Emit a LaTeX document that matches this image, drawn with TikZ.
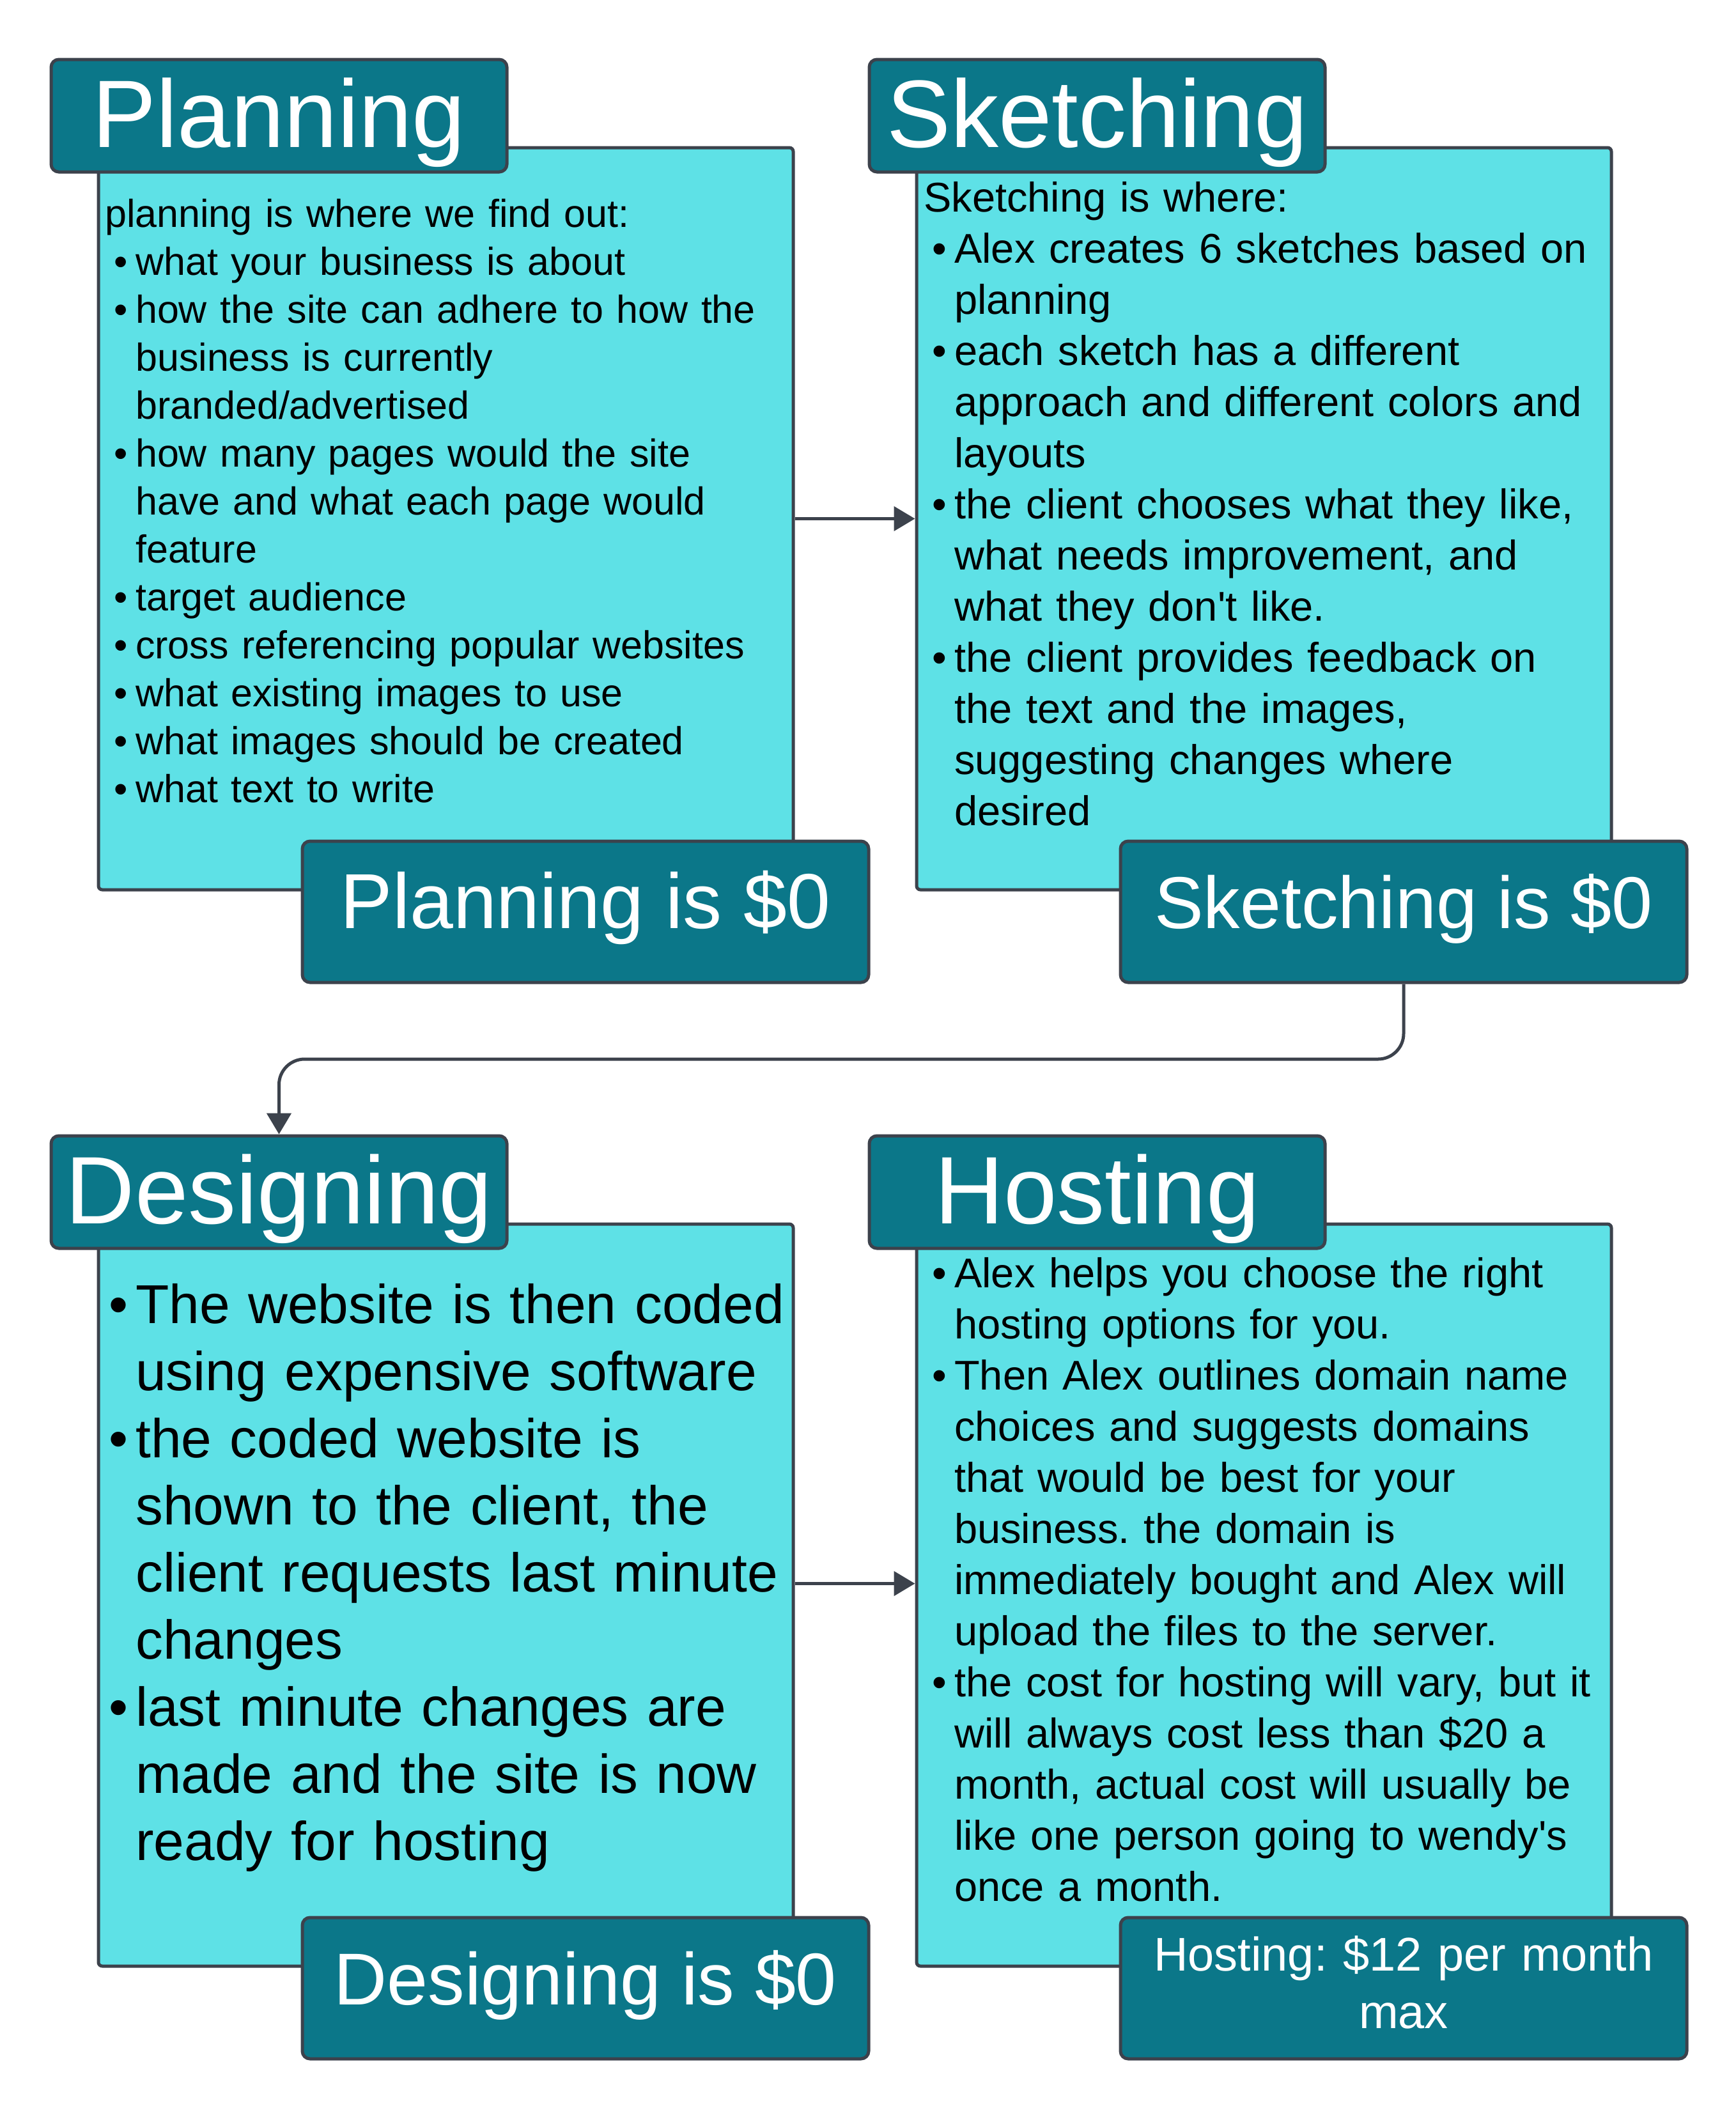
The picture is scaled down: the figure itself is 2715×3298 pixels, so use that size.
\documentclass[tikz,border=0pt]{standalone}
\usepackage{fontspec}
\setmainfont{Liberation Sans}[Ligatures=TeXOff]
\usetikzlibrary{arrows.meta}
\definecolor{teal1}{HTML}{0B7789}
\definecolor{cyan1}{HTML}{5EE1E6}
\definecolor{edge1}{HTML}{3C424C}
\frenchspacing
\newcommand{\bitem}{\par\noindent\hangindent=48pt\hangafter=1\hspace*{48pt}\llap{\textbullet\hspace*{12pt}}\ignorespaces}
\begin{document}
\begin{tikzpicture}[x=1pt,y=-1pt,
  bodybox/.style={draw=edge1, line width=5pt, fill=cyan1, rounded corners=6pt, inner sep=0pt, minimum width=1087pt, minimum height=1161pt},
  titlebox/.style={draw=edge1, line width=5pt, fill=teal1, rounded corners=12pt, inner sep=0pt, minimum width=713pt, minimum height=176pt},
  pricebox/.style={draw=edge1, line width=5pt, fill=teal1, rounded corners=12pt, inner sep=0pt, minimum width=886pt, minimum height=221pt},
  titletext/.style={anchor=base, text=white, inner sep=0pt, font=\fontsize{150}{180}\selectfont},
  pricetext/.style={anchor=base, text=white, inner sep=0pt, font=\fontsize{115}{138}\selectfont},
  bodytext/.style={anchor=north west, inner sep=0pt, text width=1400pt, text=black},
  smalltext/.style={bodytext, font=\fontsize{61}{75}\selectfont\frenchspacing},
  midtext/.style={bodytext, font=\fontsize{65}{80}\selectfont\frenchspacing},
  bigtext/.style={bodytext, font=\fontsize{85.7}{105}\selectfont\frenchspacing},
  conn/.style={draw=edge1, line width=5pt, -{Triangle[length=33pt,width=38pt]}}
]
\fill[white] (0,0) rectangle (2715,3298);
\useasboundingbox (0,0) rectangle (2715,3298);

% body boxes
\node[bodybox] (pbody) at (697.5,811.5) {};
\node[bodybox] (sbody) at (1977.5,811.5) {};
\node[bodybox] (dbody) at (697.5,2495.5) {};
\node[bodybox] (hbody) at (1977.5,2495.5) {};

% title boxes
\node[titlebox] (ptitle) at (436.5,181) {};
\node[titlebox] (stitle) at (1716.5,181) {};
\node[titlebox] (dtitle) at (436.5,1865) {};
\node[titlebox] (htitle) at (1716.5,1865) {};

\node[titletext] (ptitletext) at (436.5,230) {Planning};
\node[titletext] (stitletext) at (1716.5,230) {Sketching};
\node[titletext] (dtitletext) at (436.5,1914) {Designing};
\node[titletext] (htitletext) at (1716.5,1914) {Hosting};

% body texts
\node[smalltext] (ptext) at (164,302.5) {\noindent\strut planning is where we find out:
\bitem what your business is about
\bitem how the site can adhere to how the\newline business is currently\newline branded/advertised
\bitem how many pages would the site\newline have and what each page would\newline feature
\bitem target audience
\bitem cross referencing popular websites
\bitem what existing images to use
\bitem what images should be created
\bitem what text to write\par};

\node[midtext] (stext) at (1445,275) {\noindent\strut Sketching is where:
\bitem Alex creates 6 sketches based on\newline planning
\bitem each sketch has a different\newline approach and different colors and\newline layouts
\bitem the client chooses what they like,\newline what needs improvement, and\newline what they don't like.
\bitem the client provides feedback on\newline the text and the images,\newline suggesting changes where\newline desired\par};

\node[bigtext] (dtext) at (164,1996.5) {\noindent\strut\hspace*{48pt}\llap{\textbullet\hspace*{12pt}}%
\hangindent=48pt\hangafter=1 The website is then coded\newline using expensive software
\bitem the coded website is\newline shown to the client, the\newline client requests last minute\newline changes
\bitem last minute changes are\newline made and the site is now\newline ready for hosting\par};

\node[midtext] (htext) at (1445,1958) {\noindent\strut\hspace*{48pt}\llap{\textbullet\hspace*{12pt}}%
\hangindent=48pt\hangafter=1 Alex helps you choose the right\newline hosting options for you.
\bitem Then Alex outlines domain name\newline choices and suggests domains\newline that would be best for your\newline business. the domain is\newline immediately bought and Alex will\newline upload the files to the server.
\bitem the cost for hosting will vary, but it\newline will always cost less than \$20 a\newline month, actual cost will usually be\newline like one person going to wendy's\newline once a month.\par};

% price boxes
\node[pricebox] (pprice) at (916,1426.5) {};
\node[pricebox] (sprice) at (2196,1426.5) {};
\node[pricebox] (dprice) at (916,3110.5) {};
\node[pricebox] (hprice) at (2196,3110.5) {};

\node[pricetext, font=\fontsize{122}{146}\selectfont] (ppricetext) at (916,1452) {Planning is \$0};
\node[pricetext] (spricetext) at (2196,1452) {Sketching is \$0};
\node[pricetext] (dpricetext) at (916,3136) {Designing is \$0};
\node[anchor=north, inner sep=0pt, text width=880pt, align=center, text=white, font=\fontsize{74}{90}\selectfont\frenchspacing] (hpricetext) at (2196,3020) {\strut Hosting: \$12 per month\\ max};

% connectors
\coordinate (turn) at (0,1657);
\draw[conn] (pbody.east) -- (sbody.west);
\draw[conn] ([yshift=18pt]dbody.east) -- ([yshift=18pt]hbody.west);
\draw[conn, rounded corners=40pt] (sprice.south) -- (sprice.south |- turn) -- (dtitle.north |- turn) -- (dtitle.north);
\end{tikzpicture}
\end{document}
